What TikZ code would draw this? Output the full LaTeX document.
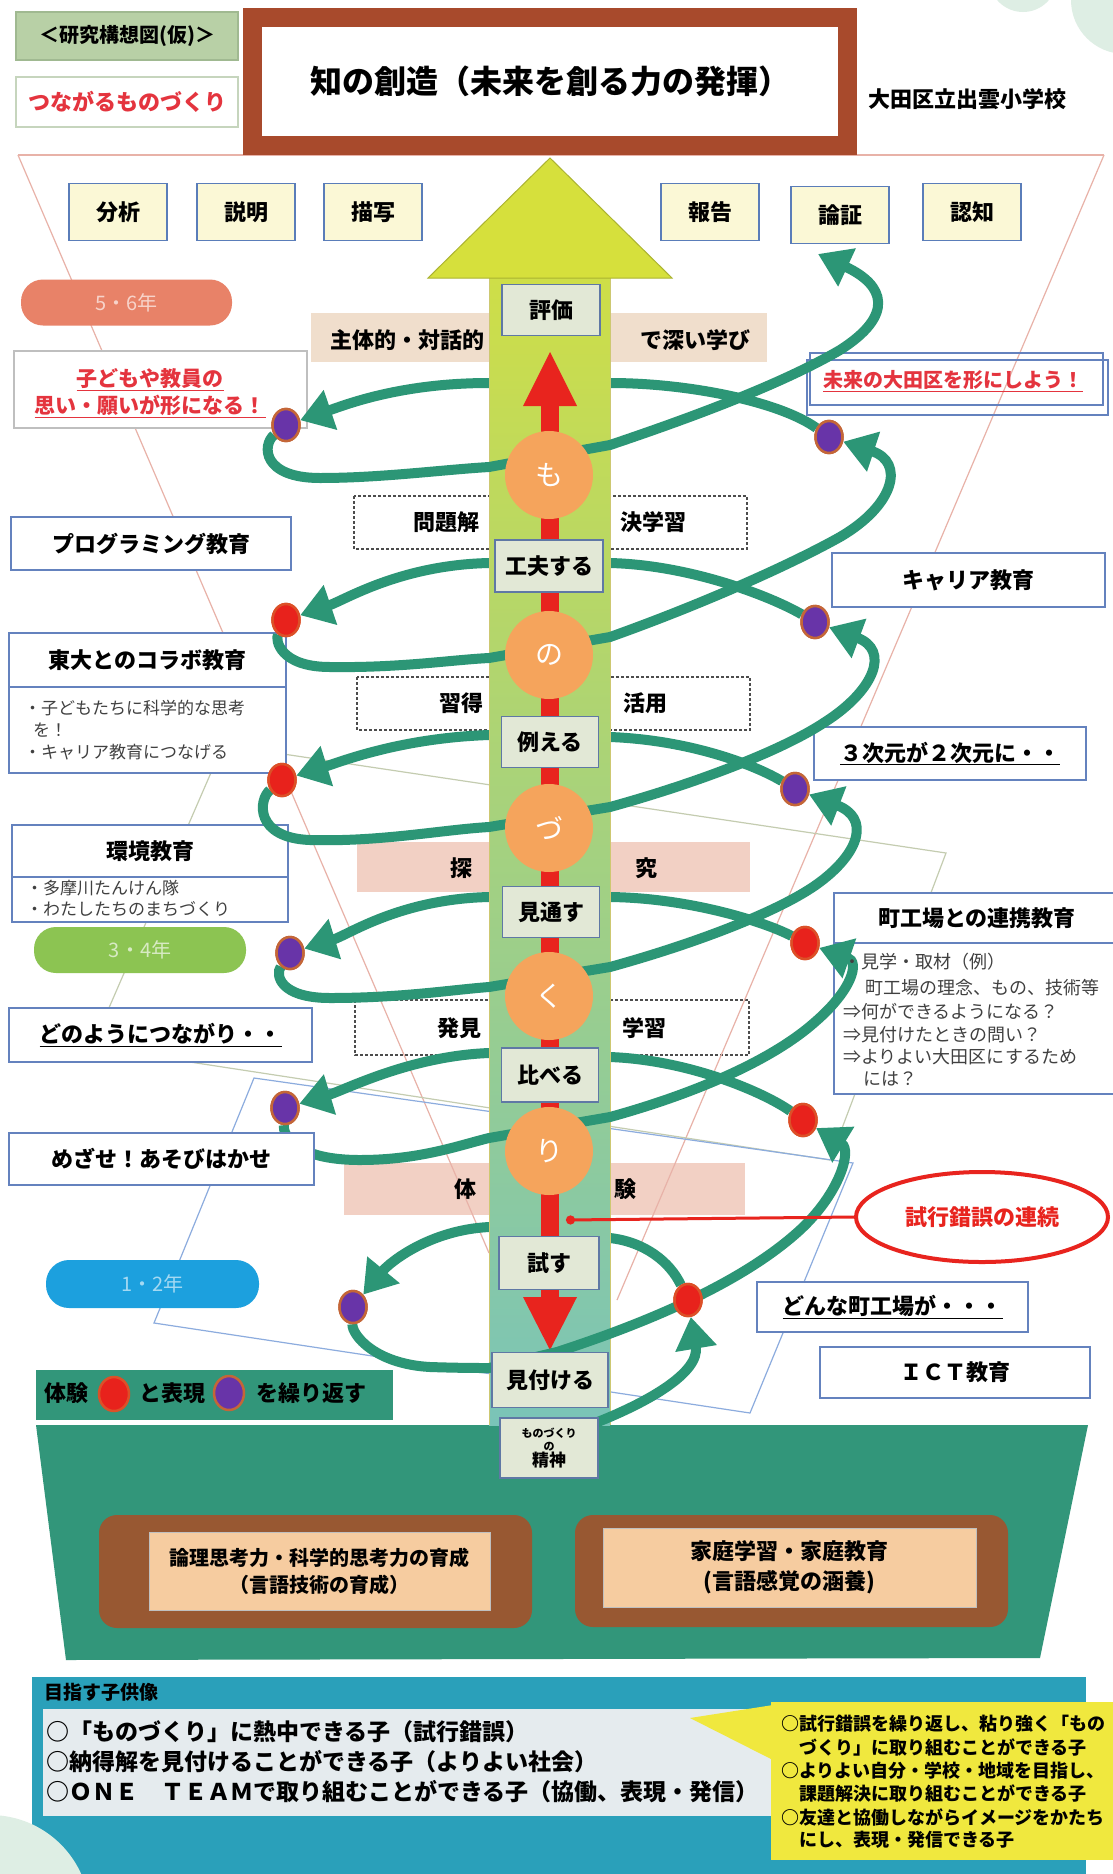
\documentclass[tikz,border=0pt]{standalone}
\usepackage{fontspec}
\setmainfont{Noto Sans CJK JP}
\usetikzlibrary{arrows.meta,shapes.geometric}
\newcommand\fsz[2]{\fontsize{#1pt}{#2pt}\selectfont}
\definecolor{tbrown}{RGB}{168,74,44}
\definecolor{gfill}{RGB}{184,208,166}
\definecolor{gbord}{RGB}{160,185,145}
\definecolor{skf}{RGB}{251,248,214}
\definecolor{skb}{RGB}{90,125,185}
\definecolor{sideb}{RGB}{100,130,190}
\definecolor{tanb}{RGB}{240,222,204}
\definecolor{pinkb}{RGB}{242,208,196}
\definecolor{colA}{RGB}{206,222,72}
\definecolor{colB}{RGB}{152,208,122}
\definecolor{colC}{RGB}{122,196,184}
\definecolor{headY}{RGB}{214,224,60}
\definecolor{lblf}{RGB}{226,232,214}
\definecolor{lblb}{RGB}{95,120,165}
\definecolor{redc}{RGB}{232,36,30}
\definecolor{orng}{RGB}{245,164,92}
\definecolor{helix}{RGB}{44,150,118}
\definecolor{dpur}{RGB}{104,52,168}
\definecolor{dorg}{RGB}{196,102,56}
\definecolor{dred}{RGB}{232,34,28}
\definecolor{dredb}{RGB}{220,80,40}
\definecolor{ovA}{RGB}{232,130,104}
\definecolor{ovB}{RGB}{140,196,82}
\definecolor{ovC}{RGB}{28,160,222}
\definecolor{baseg}{RGB}{50,150,122}
\definecolor{bbrown}{RGB}{152,88,50}
\definecolor{peach}{RGB}{246,204,160}
\definecolor{panel}{RGB}{42,160,186}
\definecolor{panelin}{RGB}{229,235,238}
\definecolor{callY}{RGB}{240,232,62}
\definecolor{mint}{RGB}{222,238,228}
\definecolor{redtxt}{RGB}{228,52,62}
\definecolor{funpink}{RGB}{232,178,168}
\definecolor{quadg}{RGB}{196,204,176}
\definecolor{quadb}{RGB}{140,172,222}
\pgfdeclarelayer{lz}
\pgfdeclarelayer{lb}
\pgfdeclarelayer{lc}
\pgfdeclarelayer{lf}
\pgfsetlayers{lz,lb,lc,lf,main}
\tikzset{
  hx/.style={draw=helix, line width=10pt},
  hxa/.style={hx, -{Triangle[length=32pt,width=40pt]}},
  skill/.style={draw=skb, fill=skf, line width=1.5pt, minimum width=98pt, minimum height=57pt, inner sep=0pt, font=\bfseries\fsz{22}{26}},
  sidebox/.style={draw=sideb, fill=white, line width=1.5pt, inner sep=0pt, font=\bfseries\fsz{22}{26}},
  colbox/.style={draw=lblb, fill=lblf, line width=1.5pt, inner sep=0pt, minimum width=98pt, minimum height=51pt, font=\bfseries\fsz{22}{26}},
  orb/.style={circle, fill=orng, minimum size=88pt, inner sep=0pt, text=white, font=\mdseries\fsz{28}{30}},
  pdot/.style={ellipse, fill=dpur, draw=dorg, line width=2.5pt, minimum width=27pt, minimum height=32pt, inner sep=0pt},
  rdot/.style={ellipse, fill=dred, draw=dredb, line width=2.5pt, minimum width=27pt, minimum height=32pt, inner sep=0pt},
  bandtxt/.style={inner sep=0pt, font=\bfseries\fsz{22}{26}},
  dashbox/.style={draw=black!70, line width=1.5pt, dash pattern=on 3pt off 2pt},
  oval/.style={rounded corners=22pt, minimum width=211pt, minimum height=46pt, inner sep=0pt, font=\mdseries\fsz{20}{22}},
  funline/.style={draw=funpink, line width=1.2pt},
  subtxt/.style={anchor=west, inner sep=0pt, font=\mdseries\fsz{17}{20}, text=black!75},
  machitxt/.style={anchor=west, inner sep=0pt, font=\mdseries\fsz{18}{21}, text=black!75},
  calltxt/.style={anchor=west, inner sep=0pt, font=\bfseries\fsz{18}{21}},
  goaltxt/.style={anchor=west, inner sep=0pt, font=\bfseries\fsz{23}{26}},
}
\begin{document}
\begin{tikzpicture}[x=1pt,y=-1pt,font=\bfseries]
\useasboundingbox (0,0) rectangle (1113,1874);

% ---------- dots (named first, drawn on main layer)
\node[pdot] (L1) at (286,425) {};
\node[pdot] (R1) at (829,437) {};
\node[rdot] (L2) at (286,620) {};
\node[pdot] (R2) at (815,622) {};
\node[rdot] (L3) at (282,780) {};
\node[pdot] (R3) at (795,789) {};
\node[pdot] (L4) at (290,953) {};
\node[rdot] (R4) at (805,943) {};
\node[pdot] (L5) at (285,1108) {};
\node[rdot] (R5) at (803,1120) {};
\node[pdot] (L6) at (353,1307) {};
\node[rdot] (R6) at (688,1300) {};
\coordinate (topend) at (818,254);

% ---------- background layer
\begin{pgfonlayer}{lz}
\fill[white] (0,0) rectangle (1113,1874);
\fill[mint] (1023,-22) circle[radius=34pt];
\fill[mint] (1125,0) circle[radius=54pt];
\fill[tanb] (311,313) rectangle (767,362);
\draw[dashbox] (354,496) rectangle (747,549);
\draw[dashbox] (357,677) rectangle (750,730);
\fill[pinkb] (357,842) rectangle (750,892);
\draw[dashbox] (355,1000) rectangle (749,1055);
\fill[pinkb] (344,1163) rectangle (745,1215);
\draw[funline] (18,155) -- (1104,155);
\draw[funline] (18,155) -- (489,1253);
\draw[funline] (1104,155) -- (617,1300);
\draw[draw=quadg, line width=1.2pt] (223,745) -- (946,853) -- (830,1160) -- (92,1047) -- cycle;
\draw[draw=quadb, line width=1.2pt] (254,1078) -- (853,1163) -- (750,1413) -- (154,1323) -- cycle;
\fill[baseg] (36,1425) -- (1088,1425) -- (1040,1658) -- (66,1660) -- cycle;
% left side boxes
\node[oval, fill=ovA, text=ovA!35!white] (g56) at (126.5,302.5) {5・6年};
\node[draw=black!25, fill=white, line width=1.5pt, minimum width=293pt, minimum height=77pt, inner sep=0pt] (kodomo) at (160.5,389.5) {};
\node[sidebox, minimum width=280pt, minimum height=53pt] (prog) at (151,543.5) {プログラミング教育};
\node[sidebox, minimum width=277pt, minimum height=54pt] (todai) at (147.5,660) {東大とのコラボ教育};
\node[sidebox, minimum width=277pt, minimum height=86pt] (todaisub) at (147.5,730) {};
\node[sidebox, minimum width=276pt, minimum height=52pt] (kankyo) at (150,851) {環境教育};
\node[sidebox, minimum width=276pt, minimum height=45pt] (kankyosub) at (150,899.5) {};
\node[oval, minimum width=212pt, fill=ovB, text=ovB!35!white] (g34) at (140,950) {3・4年};
\node[sidebox, minimum width=303pt, minimum height=54pt] (donoyou) at (160.5,1035) {\underline{どのようにつながり・・}};
\node[oval, minimum width=213pt, minimum height=48pt, rounded corners=23pt, fill=ovC, text=ovC!40!white] (g12) at (152.5,1284) {1・2年};
% right side boxes
\draw[sideb, line width=1.2pt] (810,353) rectangle (1103,405);
\node[sidebox, minimum width=301pt, minimum height=55pt, fill=none] (mirai) at (957.5,387.5) {};
\node[sidebox, minimum width=273pt, minimum height=54pt] (career) at (968.5,580) {キャリア教育};
\node[sidebox, minimum width=272pt, minimum height=53pt] (jigen) at (950,753.5) {\underline{３次元が２次元に・・}};
\node[sidebox, minimum width=286pt, minimum height=50pt] (machi) at (977,918) {町工場との連携教育};
\node[sidebox, minimum width=286pt, minimum height=151pt] (machibody) at (977,1018.5) {};
\node[sidebox, minimum width=271pt, minimum height=50pt] (donna) at (892.5,1307) {\underline{どんな町工場が・・・}};
\node[sidebox, minimum width=270pt, minimum height=51pt] (ict) at (955,1372.5) {ＩＣＴ教育};
\end{pgfonlayer}

% ---------- helix behind the column
\begin{pgfonlayer}{lb}
\draw[hxa] (R1) .. controls (780,402) and (690,383) .. (610,383) -- (489,383) .. controls (400,383) and (345,405) .. (L1);
\draw[hxa] (R2) .. controls (770,596) and (690,565) .. (610,563) -- (489,563) .. controls (400,565) and (345,600) .. (L2);
\draw[hxa] (R3) .. controls (755,765) and (690,740) .. (610,737) -- (489,735) .. controls (400,738) and (340,762) .. (L3);
\draw[hxa] (R4) .. controls (765,922) and (690,898) .. (610,897) -- (489,897) .. controls (400,899) and (348,935) .. (L4);
\draw[hxa] (R5) .. controls (765,1093) and (690,1060) .. (610,1057) -- (489,1053) .. controls (410,1056) and (345,1090) .. (L5);
\draw[hxa] (R6) .. controls (670,1262) and (645,1242) .. (610,1238) -- (489,1227) .. controls (430,1230) and (390,1262) .. (L6);
\end{pgfonlayer}

% ---------- central column
\begin{pgfonlayer}{lc}
\shade[top color=colA, middle color=colB, bottom color=colC] (489,278) rectangle (610,1425);
\draw[olive!45, line width=1pt] (489,278) -- (489,1425) (610,278) -- (610,1425);
\filldraw[fill=headY, draw=headY!80!black, line width=1pt] (550,158) -- (672,278) -- (428,278) -- cycle;
\fill[redc] (541,400) rectangle (559,1300);
\fill[redc] (550,352) -- (577,406) -- (523,406) -- cycle;
\fill[redc] (523,1297) -- (577,1297) -- (550,1350) -- cycle;
\end{pgfonlayer}

% ---------- helix in front of the column
\begin{pgfonlayer}{lf}
\draw[hx, -{Triangle[length=32pt,width=40pt]}] (L1) .. controls (262,445) and (262,478) .. (320,478) .. controls (380,478) and (440,470) .. (489,467) -- (610,445) .. controls (690,418) and (780,385) .. (840,350) .. controls (895,315) and (885,285) .. (topend);
\draw[hxa] (L2) .. controls (275,640) and (280,667) .. (330,667) .. controls (400,668) and (450,660) .. (489,658) -- (610,637) .. controls (700,605) and (790,565) .. (840,537) .. controls (895,505) and (905,462) .. (R1);
\draw[hxa] (L3) .. controls (258,800) and (255,838) .. (310,840) .. controls (380,842) and (440,830) .. (489,827) -- (610,807) .. controls (690,785) and (780,752) .. (825,722) .. controls (875,690) and (890,650) .. (R2);
\draw[hxa] (L4) .. controls (275,975) and (280,998) .. (330,998) .. controls (400,998) and (450,990) .. (489,987) -- (610,967) .. controls (690,945) and (780,912) .. (820,882) .. controls (860,852) and (870,818) .. (R3);
\draw[hxa] (L5) .. controls (283,1135) and (295,1160) .. (360,1160) .. controls (420,1160) and (460,1145) .. (489,1138) -- (610,1117) .. controls (690,1095) and (770,1062) .. (815,1022) .. controls (852,990) and (860,962) .. (R4);
\draw[hxa] (L6) .. controls (352,1335) and (375,1364) .. (430,1367) .. controls (460,1368) and (478,1368) .. (489,1368) -- (557,1352) .. controls (640,1325) and (740,1285) .. (800,1230) .. controls (840,1193) and (852,1150) .. (R5);
\draw[hxa] (590,1425) .. controls (650,1402) and (700,1372) .. (R6);
\end{pgfonlayer}

% ---------- band texts
\node[bandtxt] (shutai) at (407,340) {主体的・対話的};
\node[bandtxt] (fukai) at (695,340) {で深い学び};
\node[bandtxt] (mon) at (446,522) {問題解};
\node[bandtxt] (ketsu) at (653,522) {決学習};
\node[bandtxt] (shu) at (461,703) {習得};
\node[bandtxt] (katsu) at (645,703) {活用};
\node[bandtxt] (tan) at (461,868) {探};
\node[bandtxt] (kyu) at (646,868) {究};
\node[bandtxt] (hakken) at (459,1028) {発見};
\node[bandtxt] (gaku) at (644,1028) {学習};
\node[bandtxt] (tai) at (465,1189) {体};
\node[bandtxt] (ken) at (625,1189) {験};

% ---------- orange circles and column labels
\node[orb] (c1) at (549,475) {も};
\node[orb] (c2) at (549,655) {の};
\node[orb] (c3) at (549,828) {づ};
\node[orb] (c4) at (549,996) {く};
\node[orb] (c5) at (549,1151) {り};
\node[colbox] (hyoka) at (551,310) {評価};
\node[colbox, minimum width=108pt, minimum height=52pt] (kufu) at (549,566) {工夫する};
\node[colbox, minimum width=97pt] (tatoe) at (550,742) {例える};
\node[colbox, minimum width=97pt] (mitoosu) at (551,912) {見通す};
\node[colbox, minimum width=97pt, minimum height=54pt] (kuraberu) at (550,1075) {比べる};
\node[colbox, minimum width=100pt, minimum height=53pt] (tamesu) at (549,1263) {試す};
\node[colbox, minimum width=116pt, minimum height=55pt] (mitsukeru) at (550,1380) {見付ける};

% ---------- dots drawn on top
\node[pdot] at (L1) {};
\node[pdot] at (R1) {};
\node[rdot] at (L2) {};
\node[pdot] at (R2) {};
\node[rdot] at (L3) {};
\node[pdot] at (R3) {};
\node[pdot] at (L4) {};
\node[rdot] at (R4) {};
\node[pdot] at (L5) {};
\node[rdot] at (R5) {};
\node[pdot] at (L6) {};
\node[rdot] at (R6) {};

% ---------- texts in left boxes
\node[align=center, text=redtxt, inner sep=0pt, font=\bfseries\fsz{21}{27}] (kodomotxt) at (150,393) {\underline{子どもや教員の}\\\underline{思い・願いが形になる！}};
\node[subtxt] (td1) at (24,708) {・子どもたちに科学的な思考};
\node[subtxt] (td2) at (33,730) {を！};
\node[subtxt] (td3) at (24,752) {・キャリア教育につなげる};
\node[subtxt] (kk1) at (26,888) {・多摩川たんけん隊};
\node[subtxt] (kk2) at (26,909) {・わたしたちのまちづくり};
\node[sidebox, minimum width=305pt, minimum height=52pt] (mezase) at (161.5,1159) {めざせ！あそびはかせ};

% ---------- texts in right boxes
\node[text=redtxt, inner sep=0pt, font=\bfseries\fsz{20}{24}] (miraitxt) at (953,381) {\underline{未来の大田区を形にしよう！}};
\node[machitxt] (m1) at (843,962) {・見学・取材（例）};
\node[machitxt] (m2) at (865,988) {町工場の理念、もの、技術等};
\node[machitxt] (m3) at (843,1012) {⇒何ができるようになる？};
\node[machitxt] (m4) at (843,1035) {⇒見付けたときの問い？};
\node[machitxt] (m5) at (843,1057) {⇒よりよい大田区にするため};
\node[machitxt] (m6) at (863,1079) {には？};

% ---------- trial-and-error ellipse
\node[ellipse, draw=redc, line width=4pt, fill=white, minimum width=252pt, minimum height=90pt, inner sep=0pt, text=redc, font=\bfseries\fsz{22}{26}] (shiko) at (982,1217) {試行錯誤の連続};
\coordinate (redend) at (566,1220);
\draw[redc, line width=3pt, -{Circle[length=9pt]}] (shiko.west) -- (redend);

% ---------- legend
\node[fill=baseg, minimum width=357pt, minimum height=50pt, inner sep=0pt] (legend) at (214.5,1395) {};
\node[inner sep=0pt, font=\bfseries\fsz{22}{26}] (lg1) at (66,1393) {体験};
\node[rdot, minimum width=30pt, minimum height=34pt] (lgr) at (114,1394) {};
\node[inner sep=0pt, font=\bfseries\fsz{22}{26}] (lg2) at (172,1393) {と表現};
\node[pdot, minimum width=30pt, minimum height=34pt] (lgp) at (229,1393) {};
\node[inner sep=0pt, font=\bfseries\fsz{22}{26}] (lg3) at (311,1393) {を繰り返す};

% ---------- base boxes
\node[colbox, minimum width=98pt, minimum height=60pt, align=center, font=\bfseries\fsz{11}{13}] (seishin) at (549,1448) {ものづくり\\の\\\fsz{17}{19}精神};
\node[fill=bbrown, rounded corners=18pt, minimum width=433pt, minimum height=113pt] (lbrown) at (315.5,1571.5) {};
\node[fill=peach, draw=black!25, line width=1pt, minimum width=341pt, minimum height=78pt, align=center, inner sep=0pt, font=\bfseries\fsz{20}{27}] (ronri) at (319.5,1571) {論理思考力・科学的思考力の育成\\（言語技術の育成）};
\node[fill=bbrown, rounded corners=18pt, minimum width=433pt, minimum height=112pt] (rbrown) at (791.5,1571) {};
\node[fill=peach, draw=black!25, line width=1pt, minimum width=373pt, minimum height=79pt, align=center, inner sep=0pt, font=\bfseries\fsz{22}{30}] (katei) at (789.5,1567.5) {家庭学習・家庭教育\\(言語感覚の涵養)};

% ---------- bottom panel
\fill[panel] (32,1677) rectangle (1086,1880);
\node[anchor=west, inner sep=0pt, font=\bfseries\fsz{19}{22}] (mezasu) at (44,1692) {目指す子供像};
\node[fill=panelin, minimum width=750pt, minimum height=107pt, inner sep=0pt] (goalbox) at (418,1762) {};
\node[goaltxt] (gl1) at (46,1732) {○「ものづくり」に熱中できる子（試行錯誤）};
\node[goaltxt] (gl2) at (46,1762) {○納得解を見付けることができる子（よりよい社会）};
\node[goaltxt] (gl3) at (46,1792) {○ＯＮＥ　ＴＥＡＭで取り組むことができる子（協働、表現・発信）};
\fill[callY] (690,1718) -- (773,1705) -- (773,1760) -- cycle;
\node[fill=callY, minimum width=350pt, minimum height=158pt, inner sep=0pt] (callout) at (946,1781) {};
\node[calltxt] (ca1) at (781,1724) {○試行錯誤を繰り返し、粘り強く「もの};
\node[calltxt] (ca2) at (781,1747) {\hspace*{18pt}づくり」に取り組むことができる子};
\node[calltxt] (ca3) at (781,1771) {○よりよい自分・学校・地域を目指し、};
\node[calltxt] (ca4) at (781,1794) {\hspace*{18pt}課題解決に取り組むことができる子};
\node[calltxt] (ca5) at (781,1817) {○友達と協働しながらイメージをかたち};
\node[calltxt] (ca6) at (781,1840) {\hspace*{18pt}にし、表現・発信できる子};
\fill[mint] (-10,1915) circle[radius=100pt];

% ---------- header
\node[draw=gbord, fill=gfill, line width=1.5pt, minimum width=222pt, minimum height=48pt, inner sep=0pt, font=\bfseries\fsz{20}{24}] (kenkyu) at (127,36) {＜研究構想図(仮)＞};
\node[draw=gbord!60, fill=white, line width=2pt, minimum width=222pt, minimum height=50pt, inner sep=0pt, text=redtxt, font=\bfseries\fsz{22}{26}] (tsunagaru) at (127,102) {つながるものづくり};
\node[draw=tbrown, line width=19pt, fill=white, minimum width=595pt, minimum height=128pt, inner sep=0pt, font=\bfseries\fsz{32}{36}] (title) at (550,81.5) {知の創造（未来を創る力の発揮）};
\node[inner sep=0pt, font=\bfseries\fsz{22}{25}] (school) at (967,99) {大田区立出雲小学校};
\node[skill] (bunseki) at (118,212) {分析};
\node[skill] (setsumei) at (246,212) {説明};
\node[skill] (byosha) at (373,212) {描写};
\node[skill] (hokoku) at (710,212) {報告};
\node[skill] (ronsho) at (840,215) {論証};
\node[skill] (ninchi) at (972,212) {認知};
\end{tikzpicture}
\end{document}
